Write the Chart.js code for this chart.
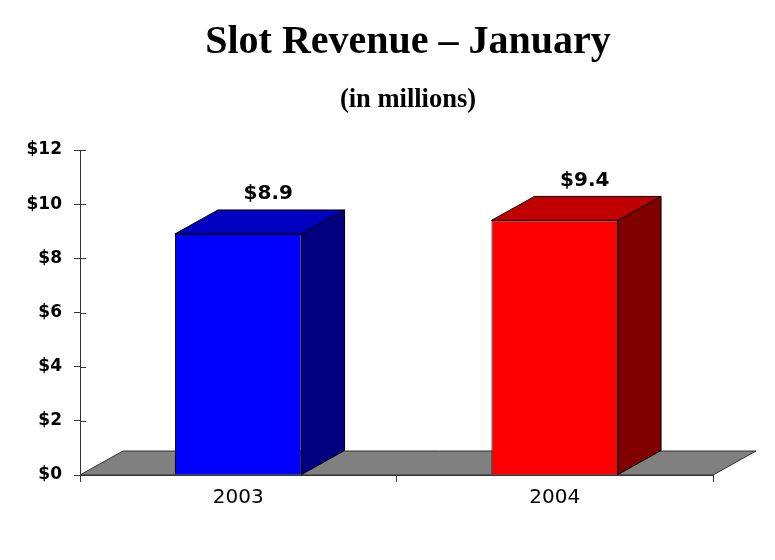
<!DOCTYPE html>
<html>
<head>
<meta charset="utf-8">
<script src="https://cdn.jsdelivr.net/npm/chart.js@4.4.1/dist/chart.umd.min.js"></script>
<style>
  html, body { margin: 0; padding: 0; background: #fff; }
  #wrap { position: relative; width: 775px; height: 560px; }
  #chart { position: absolute; left: 0; top: 0; }
  .title { position: absolute; left: 408px; transform: translateX(-50%); white-space: nowrap;
           font-family: "Liberation Serif", "Times New Roman", serif; font-weight: bold; color: #000; }
  #t1 { top: 20px; font-size: 40px; line-height: 40px; }
  #t2 { top: 85px; font-size: 26.5px; line-height: 26px; }
</style>
</head>
<body>
<div id="wrap">
  <canvas id="chart" width="775" height="560"></canvas>
  <div class="title" id="t1">Slot Revenue – January</div>
  <div class="title" id="t2">(in millions)</div>
</div>
<script>
// datos del grafico
const categories = ['2003', '2004'];
const revenue = [8.9, 9.4];
const yTicks = [0, 2, 4, 6, 8, 10, 12];

// colores de cada barra: frente, tapa y lateral
const frontColors = ['#0000FF', '#FF0000'];
const topColors = ['#0000C0', '#C00000'];
const sideColors = ['#000080', '#800000'];

const DEPTH_X = 43;
const DEPTH_Y = -24;
const LINE = '#333';

function poly(ctx, pts, fill) {
    ctx.beginPath();
    ctx.moveTo(pts[0][0], pts[0][1]);
    for (let i = 1; i < pts.length; i++) ctx.lineTo(pts[i][0], pts[i][1]);
    ctx.closePath();
    ctx.fillStyle = fill;
    ctx.fill();
    ctx.stroke();
}

// piso gris y caras 3D de las barras
const bars3d = {
    id: 'bars3d',
    beforeDatasetsDraw(chart) {
        const { ctx, chartArea } = chart;
        const b = chart.scales.y.getPixelForValue(0);
        ctx.save();
        ctx.strokeStyle = LINE;
        ctx.lineWidth = 1;
        poly(ctx, [
            [chartArea.left, b], [chartArea.right, b],
            [chartArea.right + DEPTH_X, b + DEPTH_Y], [chartArea.left + DEPTH_X, b + DEPTH_Y]
        ], '#808080');
        ctx.restore();
    },
    afterDatasetsDraw(chart) {
        const { ctx } = chart;
        const meta = chart.getDatasetMeta(0);
        ctx.save();
        ctx.strokeStyle = '#000';
        ctx.lineWidth = 1;
        meta.data.forEach((bar, i) => {
            const l = bar.x - bar.width / 2;
            const r = bar.x + bar.width / 2;
            const t = bar.y;
            const base = bar.base;
            poly(ctx, [[l, t], [r, t], [r + DEPTH_X, t + DEPTH_Y], [l + DEPTH_X, t + DEPTH_Y]], topColors[i]);
            poly(ctx, [[r, t], [r + DEPTH_X, t + DEPTH_Y], [r + DEPTH_X, base + DEPTH_Y], [r, base]], sideColors[i]);

            ctx.fillStyle = '#000';
            ctx.font = 'bold 20px "DejaVu Sans", Arial, sans-serif';
            ctx.textAlign = 'center';
            ctx.textBaseline = 'middle';
            ctx.fillText('$' + revenue[i].toFixed(1), bar.x + 30, t - 40);
        });
        ctx.restore();
    },
    afterDraw(chart) {
        // marcas del eje Y que cruzan hacia adentro
        const { ctx } = chart;
        const y = chart.scales.y;
        ctx.save();
        ctx.strokeStyle = LINE;
        ctx.lineWidth = 1;
        y.ticks.forEach((tk, i) => {
            const py = Math.round(y.getPixelForTick(i)) + 0.5;
            ctx.beginPath();
            ctx.moveTo(y.right, py);
            ctx.lineTo(y.right + 6, py);
            ctx.stroke();
        });
        ctx.restore();
    }
};

new Chart(document.getElementById('chart'), {
    type: 'bar',
    data: {
        labels: categories,
        datasets: [{
            data: revenue,
            backgroundColor: frontColors,
            borderColor: '#000',
            borderWidth: 1,
            barPercentage: 0.4,
            categoryPercentage: 1
        }]
    },
    options: {
        responsive: false,
        animation: false,
        layout: { padding: { top: 150, left: 10, right: 62, bottom: 45 } },
        plugins: { legend: { display: false }, tooltip: { enabled: false }, title: { display: false } },
        scales: {
            x: {
                grid: { display: true, offset: true, drawOnChartArea: false, tickLength: 7, color: LINE },
                border: { display: true, color: LINE },
                ticks: { color: '#000', padding: 4, font: { family: '"DejaVu Sans", Arial, sans-serif', size: 20 } },
                afterFit(s) { s.height = 40; }
            },
            y: {
                min: 0,
                max: 12,
                afterBuildTicks(s) { s.ticks = yTicks.map(v => ({ value: v })); },
                grid: { display: true, drawOnChartArea: false, tickLength: 6, color: LINE },
                border: { display: true, color: LINE },
                ticks: {
                    color: '#000',
                    padding: 12,
                    font: { family: '"DejaVu Sans", Arial, sans-serif', size: 17, weight: 'bold' },
                    callback: v => '$' + v
                },
                afterFit(s) { s.width = 70; }
            }
        }
    },
    plugins: [bars3d]
});
</script>
</body>
</html>
